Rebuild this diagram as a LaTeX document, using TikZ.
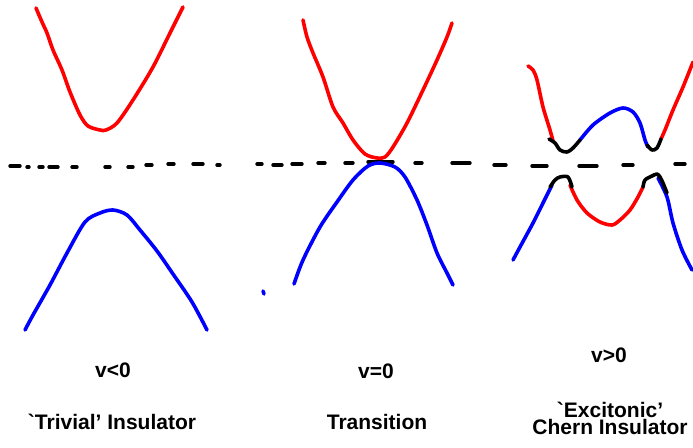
\documentclass[tikz,border=0pt]{standalone}
\usepackage{fontspec}
\setmainfont{Liberation Sans}
\definecolor{bandred}{RGB}{255,0,0}
\definecolor{bandblue}{RGB}{0,0,255}
\begin{document}
\begin{tikzpicture}[x=1pt,y=-1pt,
  band/.style={line width=3.6pt,line cap=round,line join=round},
  redband/.style={band,draw=bandred},
  blueband/.style={band,draw=bandblue},
  blackband/.style={band,draw=black},
  dsh/.style={line width=3.4pt,line cap=round,draw=black},
  lbl/.style={font=\bfseries\fontsize{21}{17}\selectfont,inner sep=0pt,align=center}]
\useasboundingbox[fill=white] (0,0) rectangle (693,447);

% dashed Fermi line
\foreach \a/\b/\y in {10/20/166,27/29/167,39/43/167,49/58/167,72/77/167,105/110/167,128/133/167,146/152/165,168/174/164,193/203/164,217/220/165,257/262/164,273/282/165,292/302/164,318/325/163,345/353/163,368/393/162,415/422/163,452/470/163,494/506/165,532/547/166,579/597/166,623/633/165,675/685/164}
  \draw[dsh] (\a,\y) -- (\b,\y);

% panel 1
\draw[redband] plot[smooth,tension=0.5] coordinates {(36,8) (42,22) (47,33) (53,50) (62,70) (70,92) (80,115) (88,126) (100,130) (106,130) (117,123) (133,100) (153,67) (170,33) (183,7)};
\draw[blueband] plot[smooth,tension=0.5] coordinates {(25,330) (33,315) (50,285) (67,253) (85,222) (100,213) (113,210) (127,215) (140,230) (157,251) (173,274) (192,302) (207,330)};

% panel 2
\draw[redband] plot[smooth,tension=0.5] coordinates {(303,20) (307,37) (313,53) (323,77) (333,107) (343,123) (353,140) (365,154) (377,158) (385,157) (393,147) (407,123) (423,90) (437,60) (447,37) (452,23)};
\draw[blueband] plot[smooth,tension=0.5] coordinates {(294,284) (303,260) (320,227) (337,202) (353,180) (368,166) (380,163) (395,167) (405,177) (417,200) (427,225) (437,253) (447,273) (453,285)};
\draw[blueband] (263,291) -- (264,294);

% panel 3, upper band
\draw[redband] plot[smooth,tension=0.5] coordinates {(528,66) (533,70) (537,80) (543,107) (550,130) (553,141)};
\draw[blueband] plot[smooth,tension=0.5] coordinates {(580,140) (593,125) (610,113) (623,108) (633,112) (640,123) (645,140) (648,147)};
\draw[redband] plot[smooth,tension=0.5] coordinates {(661,139) (665,130) (673,110) (683,87) (693,62)};
\draw[blackband] plot[smooth,tension=0.5] coordinates {(549,139) (555,143) (560,150) (567,152) (573,148) (580,140)};
\draw[blackband] plot[smooth,tension=0.5] coordinates {(647,145) (652,150) (657,148) (661,139)};

% panel 3, lower band
\draw[blueband] plot[smooth,tension=0.5] coordinates {(513,260) (520,247) (533,223) (543,203) (552,185)};
\draw[redband] plot[smooth,tension=0.5] coordinates {(570,185) (577,200) (587,213) (600,222) (612,225) (620,220) (630,210) (638,197) (643,187)};
\draw[blueband] plot[smooth,tension=0.5] coordinates {(658,178) (667,197) (673,223) (682,250) (692,270)};
\draw[blackband] plot[smooth,tension=0.5] coordinates {(550,187) (555,180) (560,177) (568,177) (572,187)};
\draw[blackband] plot[smooth,tension=0.5] coordinates {(643,187) (645,180) (652,176) (657,174) (660,177) (663,183) (667,193)};

% labels
\node[lbl] (v1) at (113,370) {v<0};
\node[lbl] (v2) at (376,371) {v=0};
\node[lbl] (v3) at (609,355) {v>0};
\node[lbl] (t1) at (112,422) {\textasciigrave Trivial’ Insulator};
\node[lbl] (t2) at (377,422) {Transition};
\node[lbl] (t3) at (610,418) {\textasciigrave Excitonic’\\Chern Insulator};
\end{tikzpicture}
\end{document}
